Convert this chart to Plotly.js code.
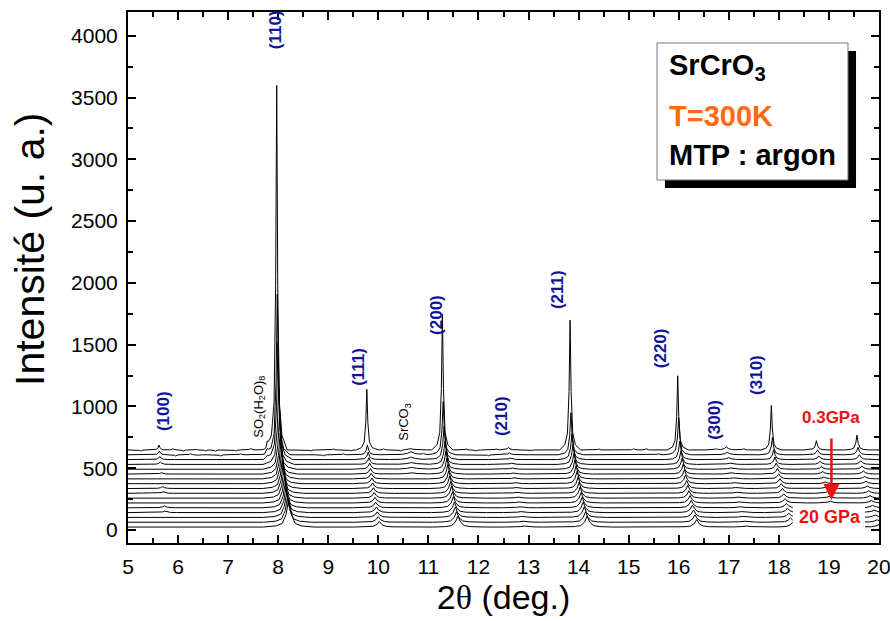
<!DOCTYPE html>
<html>
<head>
<meta charset="utf-8">
<script src="https://cdn.plot.ly/plotly-3.0.1.min.js"></script>
<style>html,body{margin:0;padding:0;background:#fff;}#chart{width:890px;height:621px;}</style>
</head>
<body>
<div id="chart"></div>
<script>
// ---------------- DATA ----------------
// 17 patterns, from 0.3 GPa (top) to 20 GPa (bottom); vertical stacking offsets (u. a.)
const curveNames = ['0.3 GPa','P2','P3','P4','P5','P6','P7','P8','P9','P10','P11','P12','P13','P14','P15','P16','20 GPa'];
const offsets = [648, 609, 570, 531, 492, 453, 414, 375, 336, 297, 258, 219, 180, 141, 102, 63, 24];
// fraction of the total peak shift reached by each pattern (read on the (110) and (211) peaks)
const shiftFrac = [0, 0.05, 0.11, 0.17, 0.23, 0.29, 0.35, 0.41, 0.47, 0.53, 0.59, 0.65, 0.71, 0.77, 0.83, 0.91, 1];
// peak half-width of each pattern (deg.)
const peakWidth = [0.035, 0.042, 0.048, 0.052, 0.056, 0.058, 0.062, 0.064, 0.066, 0.068, 0.07, 0.072, 0.074, 0.076, 0.078, 0.08, 0.085];

// reflections: position at 0.3 GPa and at 20 GPa (2θ, deg.)
const reflections = ['(100)', 'SO2(H2O)8', '(110)', '(111)', 'SrCO3', '(200)', '(210)', '(211)', '(220)', '(300)', '(310)', 'p1', 'p2'];
const posLow  = [5.62, 7.78, 7.97, 9.77, 10.65, 11.28, 12.60, 13.83, 15.98, 16.95, 17.85, 18.75, 19.56];
const posHigh = [5.77, 7.78, 8.21, 10.02, 10.72, 11.59, 12.92, 14.17, 16.36, 17.35, 18.27, 19.18, 20.00];
const widthFactor = [1, 1, 1, 1, 3, 1, 1.5, 1, 1, 2, 1, 1.2, 1.2];
// peak heights above each pattern's baseline, one row per reflection, one column per pattern
const heights = [
  [40, 30, 25, 20, 0, 10, 0, 0, 15, 12, 0, 0, 15, 12, 0, 0, 0],                                   // (100)
  [50, 30, 15, 0, 0, 0, 0, 0, 0, 0, 0, 0, 0, 0, 0, 0, 0],                                          // SO2(H2O)8
  [2950, 1300, 950, 620, 420, 330, 290, 260, 240, 230, 220, 210, 200, 200, 200, 210, 230],         // (110)
  [490, 80, 60, 55, 50, 45, 45, 45, 45, 45, 45, 45, 45, 45, 45, 45, 45],                           // (111)
  [10, 25, 20, 15, 15, 10, 0, 0, 0, 0, 0, 0, 0, 0, 0, 0, 0],                                       // SrCO3
  [1100, 430, 270, 190, 150, 130, 115, 105, 100, 95, 95, 90, 90, 85, 85, 85, 90],                  // (200)
  [20, 15, 12, 10, 10, 8, 8, 8, 8, 8, 8, 8, 8, 8, 8, 8, 8],                                        // (210)
  [1050, 340, 210, 160, 130, 115, 105, 100, 95, 90, 90, 85, 85, 85, 85, 85, 90],                   // (211)
  [600, 300, 150, 110, 90, 80, 75, 70, 65, 65, 60, 60, 60, 60, 60, 60, 60],                        // (220)
  [25, 20, 15, 10, 10, 10, 8, 8, 8, 8, 8, 8, 8, 8, 8, 8, 8],                                       // (300)
  [360, 140, 80, 60, 50, 45, 40, 40, 40, 40, 35, 35, 35, 35, 35, 35, 35],                          // (310)
  [75, 40, 30, 25, 20, 20, 15, 15, 15, 15, 15, 15, 15, 15, 15, 15, 15],                            // p1
  [120, 60, 40, 30, 25, 25, 20, 20, 20, 20, 20, 20, 20, 20, 20, 20, 20]                            // p2
];
// small background features of the first two patterns
const noiseX0 = [5.25, 5.9, 6.1, 6.35, 6.55, 6.75, 7.15, 7.45, 8.65, 9.1, 9.45, 10.1, 10.45, 11.75, 11.95, 12.35, 13.05, 14.4, 15.1, 15.35, 16.75, 17.3];
const noiseH0 = [-8, 10, -10, 8, -8, -10, -8, 12, -8, 8, -8, 8, -10, 8, -8, 8, -8, 8, 10, 10, 8, 10];
const noiseX1 = [5.95, 6.25, 6.4, 6.85, 7.25, 8.9, 9.3, 10.9, 12.2, 15.6];
const noiseH1 = [-10, 8, -8, -10, 8, -8, 8, 10, -8, 8];

// peak profile drawn as a polyline (offsets in half-widths, relative height), read from the sharp peaks
const shapeDx = [-6, -3, -1.5, -0.6, 0, 0.6, 1.5, 3, 6];
const shapeY  = [0, 0.04, 0.13, 0.45, 1, 0.45, 0.13, 0.04, 0];

// hkl labels
const hklText = ['(100)', '(110)', '(111)', '(200)', '(210)', '(211)', '(220)', '(300)', '(310)'];
const hklX    = [5.70, 7.94, 9.59, 11.15, 12.45, 13.57, 15.63, 16.70, 17.54];
const hklY    = [963, 4046, 1319, 1740, 922, 1942, 1473, 890, 1254];

// ---------------- BUILD ----------------
function shapeAt(dx) {
  if (dx <= shapeDx[0] || dx >= shapeDx[shapeDx.length - 1]) return 0;
  for (let i = 0; i < shapeDx.length - 1; i++) {
    if (dx >= shapeDx[i] && dx <= shapeDx[i + 1]) {
      const t = (dx - shapeDx[i]) / (shapeDx[i + 1] - shapeDx[i]);
      return shapeY[i] + t * (shapeY[i + 1] - shapeY[i]);
    }
  }
  return 0;
}
function buildCurve(k) {
  const peaks = [];
  for (let r = 0; r < reflections.length; r++) {
    const h = heights[r][k];
    if (!h) continue;
    const p = posLow[r] + shiftFrac[k] * (posHigh[r] - posLow[r]);
    peaks.push([p, h, peakWidth[k] * widthFactor[r]]);
  }
  const nx = k === 0 ? noiseX0 : (k === 1 ? noiseX1 : []);
  const nh = k === 0 ? noiseH0 : (k === 1 ? noiseH1 : []);
  for (let i = 0; i < nx.length; i++) peaks.push([nx[i], nh[i], 0.03]);
  const xsSet = new Set([5, 20]);
  peaks.forEach(([p, h, w]) => shapeDx.forEach(d => {
    const x = +(p + d * w).toFixed(4);
    if (x > 5 && x < 20) xsSet.add(x);
  }));
  const xs = Array.from(xsSet).sort((a, b) => a - b);
  const ys = xs.map(x => offsets[k] + peaks.reduce((s, [p, h, w]) => s + h * shapeAt((x - p) / w), 0));
  return {xs, ys};
}

const traces = [];
for (let k = offsets.length - 1; k >= 0; k--) {
  const c = buildCurve(k);
  traces.push({x: c.xs, y: c.ys, type: 'scatter', mode: 'lines', name: curveNames[k],
    line: {color: '#000', width: 1}, hoverinfo: 'skip', showlegend: false});
}

const FONT = 'Arial, "Liberation Sans", sans-serif';
const annotations = [];
for (let i = 0; i < hklText.length; i++) {
  annotations.push({x: hklX[i], y: hklY[i], xref: 'x', yref: 'y', text: '<b>' + hklText[i] + '</b>',
    textangle: -90, showarrow: false, font: {family: FONT, size: 17, color: '#14149a'}});
}
annotations.push({x: 7.61, y: 995, xref: 'x', yref: 'y', text: 'SO<sub>2</sub>(H<sub>2</sub>O)<sub>8</sub>',
  textangle: -90, showarrow: false, font: {family: FONT, size: 13, color: '#000'}});
annotations.push({x: 10.53, y: 875, xref: 'x', yref: 'y', text: 'SrCO<sub>3</sub>',
  textangle: -90, showarrow: false, font: {family: FONT, size: 13, color: '#000'}});
// pressure arrow and labels
annotations.push({x: 19.05, y: 243, ax: 19.05, ay: 753, xref: 'x', yref: 'y', axref: 'x', ayref: 'y',
  text: '', showarrow: true, arrowhead: 2, arrowsize: 1.3, arrowwidth: 2.5, arrowcolor: '#f01010'});
annotations.push({x: 19.05, y: 910, xref: 'x', yref: 'y', text: '<b>0.3GPa</b>', showarrow: false,
  font: {family: FONT, size: 17, color: '#f01010'}});
annotations.push({x: 19.03, y: 105, xref: 'x', yref: 'y', text: '<b>20 GPa</b>', showarrow: false,
  font: {family: FONT, size: 18, color: '#f01010'}});
// info box texts
annotations.push({x: 0.7177, y: 0.897, xref: 'paper', yref: 'paper', xanchor: 'left', yanchor: 'middle',
  text: '<b>SrCrO<sub>3</sub></b>', showarrow: false, font: {family: FONT, size: 29, color: '#000'}});
annotations.push({x: 0.7177, y: 0.804, xref: 'paper', yref: 'paper', xanchor: 'left', yanchor: 'middle',
  text: '<b>T=300K</b>', showarrow: false, font: {family: FONT, size: 29, color: '#ff6a10'}});
annotations.push({x: 0.7177, y: 0.731, xref: 'paper', yref: 'paper', xanchor: 'left', yanchor: 'middle',
  text: '<b>MTP : argon</b>', showarrow: false, font: {family: FONT, size: 29, color: '#000'}});
// y-axis title (placed as in the reference, above the axis centre)
annotations.push({x: -0.1305, y: 0.5537, xref: 'paper', yref: 'paper', xanchor: 'center', yanchor: 'middle',
  text: 'Intensité (u. a.)', textangle: -90, showarrow: false, font: {family: FONT, size: 41, color: '#000'}});

const shapes = [
  {type: 'rect', xref: 'x', yref: 'y', x0: 18.28, x1: 19.72, y0: -105, y1: 205, layer: 'above',
    fillcolor: '#fff', line: {width: 0}},
  {type: 'rect', xref: 'paper', yref: 'paper', x0: 0.7150, x1: 0.9694, y0: 0.6686, y1: 0.9266,
    fillcolor: '#000', line: {width: 0}, layer: 'above'},
  {type: 'rect', xref: 'paper', yref: 'paper', x0: 0.7044, x1: 0.9587, y0: 0.6836, y1: 0.9416,
    fillcolor: '#fff', line: {width: 1, color: '#777'}, layer: 'above'}
];

const axisCommon = {showline: true, linewidth: 2, linecolor: '#000', mirror: 'allticks', ticks: 'inside',
  ticklen: 8, tickwidth: 2, tickcolor: '#000', showgrid: false, zeroline: false, ticklabelstandoff: 4,
  ticklabeloverflow: 'allow', tickfont: {family: FONT, size: 21, color: '#000'}};

const layout = {
  width: 890, height: 621,
  margin: {l: 128, r: 11, t: 12, b: 78},
  paper_bgcolor: '#fff', plot_bgcolor: '#fff',
  showlegend: false,
  xaxis: Object.assign({}, axisCommon, {range: [5, 20], tick0: 5, dtick: 1,
    minor: {ticks: 'inside', dtick: 0.5, ticklen: 5, tickwidth: 2, tickcolor: '#000'},
    title: {text: '2<span style="font-family:\'Liberation Serif\',\'Times New Roman\',serif">θ</span> (deg.)',
      font: {family: FONT, size: 34, color: '#000'}, standoff: 8}}),
  yaxis: Object.assign({}, axisCommon, {range: [-105, 4192], tick0: 0, dtick: 500,
    minor: {ticks: 'inside', dtick: 250, ticklen: 5, tickwidth: 2, tickcolor: '#000'}}),
  annotations, shapes
};

Plotly.newPlot('chart', traces, layout, {displayModeBar: false, staticPlot: true});
</script>
</body>
</html>
